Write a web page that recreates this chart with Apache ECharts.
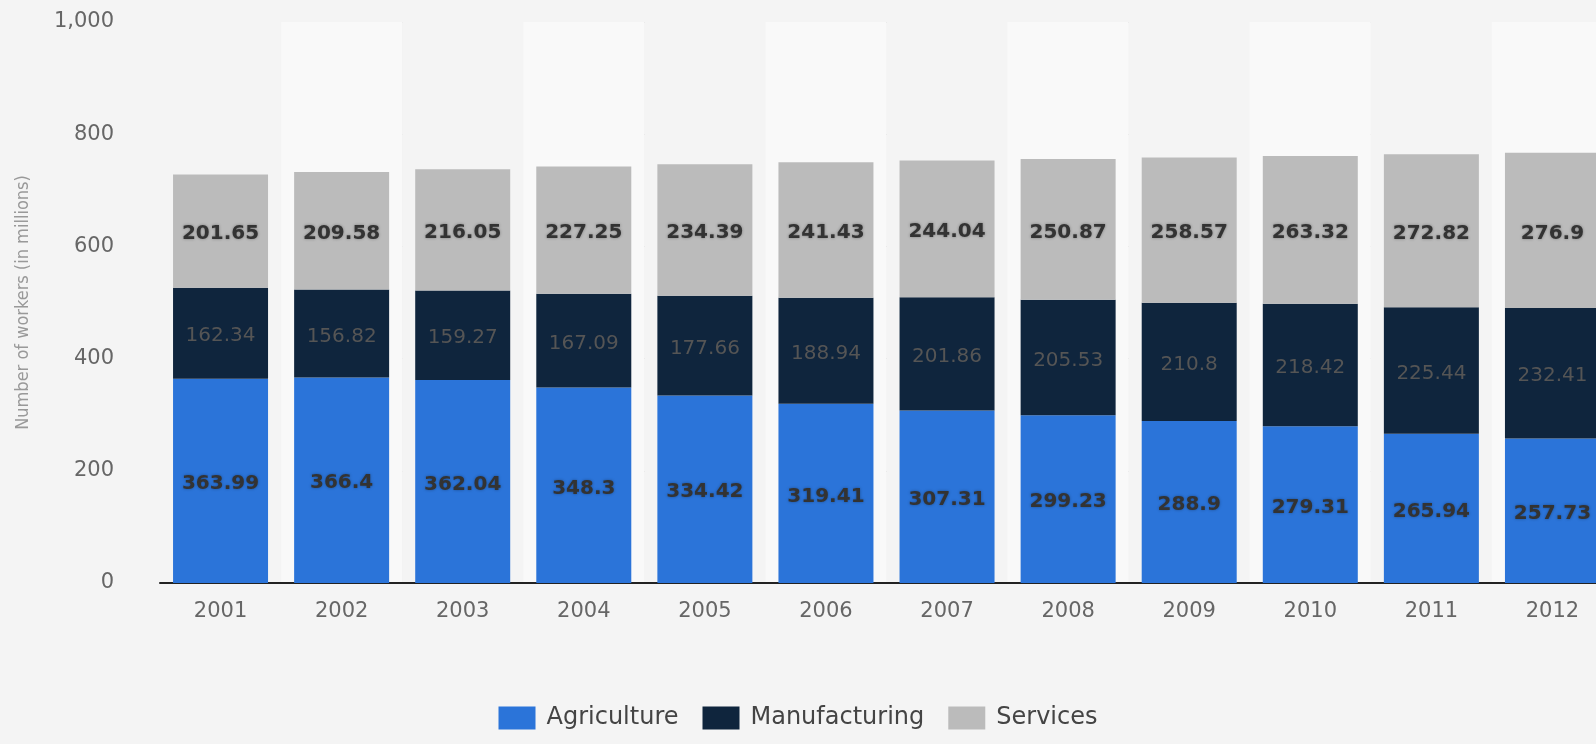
<!DOCTYPE html>
<html>
<head>
<meta charset="utf-8">
<script src="https://cdn.jsdelivr.net/npm/echarts@6/dist/echarts.min.js"></script>
<style>
html,body{margin:0;padding:0;background:#f4f4f4;}
#c{width:1596px;height:744px;}
</style>
</head>
<body>
<div id="c"></div>
<script>
const years = ['2001','2002','2003','2004','2005','2006','2007','2008','2009','2010','2011','2012'];
const agriculture = [363.99,366.4,362.04,348.3,334.42,319.41,307.31,299.23,288.9,279.31,265.94,257.73];
const manufacturing = [162.34,156.82,159.27,167.09,177.66,188.94,201.86,205.53,210.8,218.42,225.44,232.41];
const services = [201.65,209.58,216.05,227.25,234.39,241.43,244.04,250.87,258.57,263.32,272.82,276.9];
const yTicks = [0,200,400,600,800,1000];

const FONT = 'DejaVu Sans';
const chart = echarts.init(document.getElementById('c'), null, {renderer:'canvas'});

function lbl(color, weight, shadow){
  return {
    show:true, position:'inside', fontFamily:FONT, fontSize:20, fontWeight:weight, color:color,
    textShadowColor: shadow ? 'rgba(0,0,0,0.35)' : 'transparent', textShadowBlur: shadow ? 3 : 0,
    offset:[0,3],
    formatter: p => String(p.value)
  };
}

chart.setOption({
  backgroundColor:'#f4f4f4',
  animation:false,
  grid:{left:160, top:22, bottom:161, width:1453, containLabel:false, outerBoundsMode:'none'},
  legend:{
    bottom:9, left:'center', itemWidth:37, itemHeight:23, itemGap:24,
    textStyle:{fontFamily:FONT, fontSize:24, color:'#444', padding:[0,0,0,6]},
    icon:'rect',
    data:['Agriculture','Manufacturing','Services']
  },
  xAxis:{
    type:'category', data:years,
    axisLine:{show:true, lineStyle:{color:'#222', width:2}},
    axisTick:{show:false},
    axisLabel:{fontFamily:FONT, fontSize:21, color:'#666', margin:18},
    splitArea:{show:true, areaStyle:{color:['#f4f4f4','#f9f9f9']}}
  },
  yAxis:{
    type:'value', min:0, max:1000, interval:200,
    name:'Number of workers (in millions)', nameLocation:'middle', nameRotate:90, nameGap:128,
    nameTextStyle:{fontFamily:'DejaVu Sans Condensed', fontSize:18, color:'#999'},
    axisLine:{show:false}, axisTick:{show:false},
    axisLabel:{fontFamily:FONT, fontSize:21, color:'#666', margin:46,
      formatter: v => yTicks.includes(v) ? v.toLocaleString('en-US') : ''},
    splitLine:{show:true, lineStyle:{color:'#c8c8c8', type:'dotted', width:1}}
  },
  series:[
    {name:'Agriculture', type:'bar', stack:'a', data:agriculture, barWidth:95,
     itemStyle:{color:'#2b74d9'}, label:lbl('#333','bold',true)},
    {name:'Manufacturing', type:'bar', stack:'a', data:manufacturing, barWidth:95,
     itemStyle:{color:'#0f253d'}, label:lbl('#555','normal',false)},
    {name:'Services', type:'bar', stack:'a', data:services, barWidth:95,
     itemStyle:{color:'#bbbbbb'}, label:lbl('#333','bold',true)}
  ]
});
</script>
</body>
</html>
